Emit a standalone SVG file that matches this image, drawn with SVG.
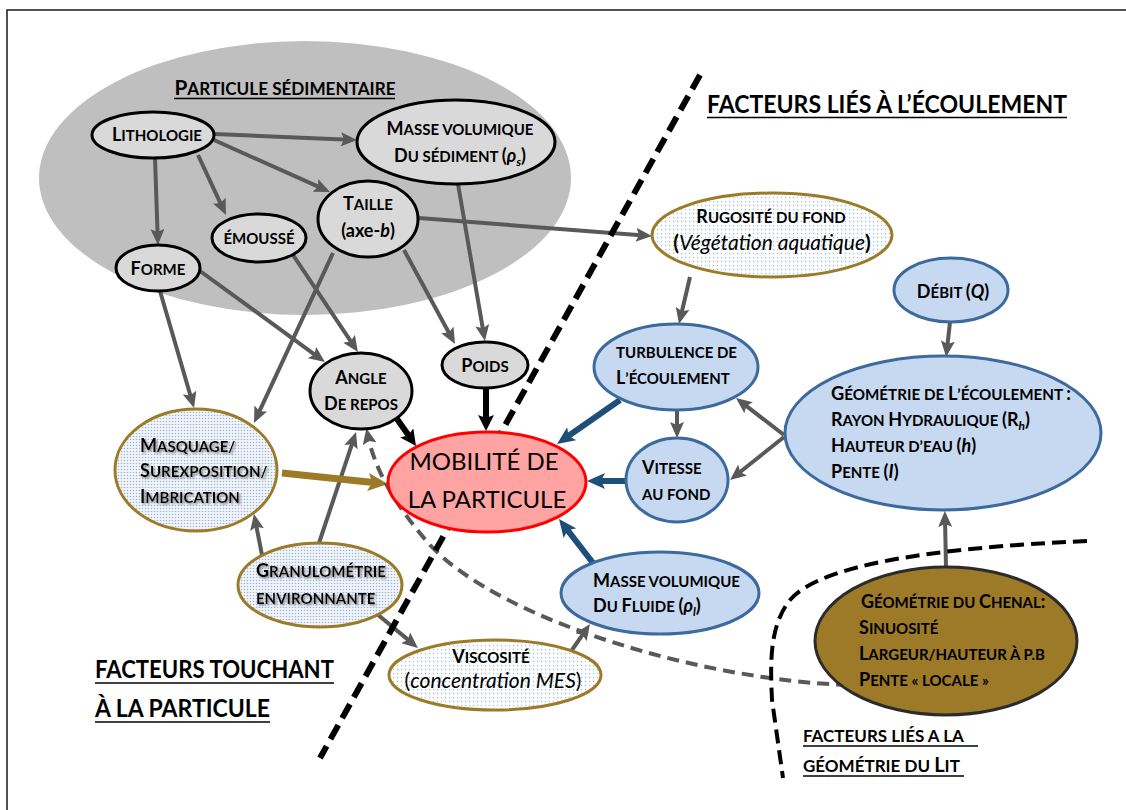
<svg xmlns="http://www.w3.org/2000/svg" width="1126" height="810" viewBox="0 0 1126 810">
<style>
.f{font-family:Lato,"Liberation Sans","DejaVu Sans",sans-serif;font-weight:bold;fill:#000}
.n{font-size:18px}
.s{font-size:15px}
.i{font-style:italic}
.r{font-weight:normal}
.m{text-anchor:middle}
.c{fill:none;stroke:#595959;stroke-width:4}
.cb{fill:none;stroke:#1f4e79;stroke-width:6}
.ck{fill:none;stroke:#000;stroke-width:6}
.cn{fill:none;stroke:#9c7a27;stroke-width:7}
.gn{fill:#d9d9d9;stroke:#000;stroke-width:3}
.bn{fill:#c6d9f1;stroke:#3d6a9c;stroke-width:3}
.dn{stroke:#9c7a27;stroke-width:3}
.ul{stroke:#000;stroke-width:1.6}
</style>
<defs>
<pattern id="dots" width="4" height="4" patternUnits="userSpaceOnUse"><rect width="4" height="4" fill="#fff"/><circle cx="1.5" cy="1.5" r="0.7" fill="#9dbbe0"/></pattern>
<pattern id="dots2" width="3" height="3" patternUnits="userSpaceOnUse"><rect width="3" height="3" fill="#f2f6fb"/><circle cx="1.5" cy="1.5" r="0.8" fill="#9fb6d6"/></pattern>
<filter id="sh" x="-10%" y="-30%" width="120%" height="160%"><feDropShadow dx="1.5" dy="1.5" stdDeviation="0.8" flood-color="#808080"/></filter>
<marker id="ag" markerUnits="userSpaceOnUse" markerWidth="16" markerHeight="14" refX="8" refY="7" orient="auto" viewBox="0 0 16 14"><path d="M0,0 L16,7 L0,14 L3,7 z" fill="#595959"/></marker>
<marker id="ab" markerUnits="userSpaceOnUse" markerWidth="18" markerHeight="16" refX="9" refY="8" orient="auto" viewBox="0 0 18 16"><path d="M0,0 L18,8 L0,16 L4,8 z" fill="#1f4e79"/></marker>
<marker id="ak" markerUnits="userSpaceOnUse" markerWidth="16" markerHeight="16" refX="7" refY="8" orient="auto" viewBox="0 0 16 16"><path d="M0,0 L16,8 L0,16 L3,8 z" fill="#000"/></marker>
<marker id="an" markerUnits="userSpaceOnUse" markerWidth="20" markerHeight="18" refX="10" refY="9" orient="auto" viewBox="0 0 20 18"><path d="M0,0 L20,9 L0,18 L4,9 z" fill="#9c7a27"/></marker>
</defs>
<rect width="1126" height="810" fill="#fff"/>
<rect x="7" y="10" width="1130" height="810" fill="none" stroke="#1a1a1a" stroke-width="1.5"/>

<g id="groupe-particule">
<ellipse cx="305" cy="178" rx="266" ry="137" fill="#bfbfbf"/>
<text class="f m" x="285" y="95" font-size="20" textLength="221" lengthAdjust="spacingAndGlyphs">P<tspan font-size="16.5">ARTICULE SÉDIMENTAIRE</tspan></text>
<line class="ul" x1="174" y1="98.5" x2="395" y2="98.5"/>
</g>

<g id="titres">
<text class="f" x="707" y="113" font-size="24" textLength="360" lengthAdjust="spacingAndGlyphs">FACTEURS LIÉS À L’ÉCOULEMENT</text>
<line class="ul" x1="707" y1="117.5" x2="1067" y2="117.5"/>
<text class="f" x="95" y="678" font-size="24" textLength="239" lengthAdjust="spacingAndGlyphs">FACTEURS TOUCHANT</text>
<line class="ul" x1="95" y1="683" x2="334" y2="683"/>
<text class="f" x="95" y="717" font-size="24" textLength="175" lengthAdjust="spacingAndGlyphs">À LA PARTICULE</text>
<line class="ul" x1="95" y1="722" x2="270" y2="722"/>
<text class="f" x="803" y="742" font-size="17">FACTEURS LIÉS A LA </text>
<line class="ul" x1="803" y1="746" x2="978" y2="746"/>
<text class="f" x="803" y="772" font-size="17">GÉOMÉTRIE DU <tspan font-size="20">L</tspan>IT</text>
<line class="ul" x1="803" y1="776" x2="964" y2="776"/>
</g>

<g id="connectors">
<line class="c" x1="215" y1="134" x2="349" y2="139.7" marker-end="url(#ag)"/>
<line class="c" x1="214" y1="140" x2="322.7" y2="188.7" marker-end="url(#ag)"/>
<line class="c" x1="198" y1="155" x2="222.6" y2="207.8" marker-end="url(#ag)"/>
<line class="c" x1="155" y1="158" x2="157.7" y2="237" marker-end="url(#ag)"/>
<line class="c" x1="419" y1="218" x2="644" y2="235.4" marker-end="url(#ag)"/>
<line class="c" x1="458" y1="184" x2="483.6" y2="333.1" marker-end="url(#ag)"/>
<line class="c" x1="404" y1="250" x2="451.2" y2="337" marker-end="url(#ag)"/>
<line class="c" x1="333" y1="253" x2="257.4" y2="415.7" marker-end="url(#ag)"/>
<line class="c" x1="293" y1="255" x2="353.5" y2="345.4" marker-end="url(#ag)"/>
<line class="c" x1="200" y1="271" x2="318.5" y2="357.3" marker-end="url(#ag)"/>
<line class="c" x1="160" y1="291" x2="191.8" y2="400.3" marker-end="url(#ag)"/>
<line class="c" x1="319" y1="543" x2="353.5" y2="439.6" marker-end="url(#ag)"/>
<line class="c" x1="262" y1="555" x2="255.5" y2="521.8" marker-end="url(#ag)"/>
<line class="c" x1="377" y1="614" x2="411.8" y2="642.9" marker-end="url(#ag)"/>
<line class="c" x1="572" y1="650" x2="585.4" y2="630.6" marker-end="url(#ag)"/>
<line class="c" x1="690" y1="277" x2="680.8" y2="316.2" marker-end="url(#ag)"/>
<line class="c" x1="677" y1="410" x2="677" y2="430" marker-end="url(#ag)"/>
<line class="c" x1="950" y1="322" x2="947" y2="349" marker-end="url(#ag)"/>
<line class="c" x1="784" y1="435" x2="742.3" y2="402.9" marker-end="url(#ag)"/>
<line class="c" x1="784" y1="437" x2="736.3" y2="475" marker-end="url(#ag)"/>
<line class="c" x1="946" y1="567" x2="945" y2="519" marker-end="url(#ag)"/>
<line class="cn" x1="282" y1="473" x2="378" y2="483" marker-end="url(#an)"/>
<line class="ck" x1="397" y1="419" x2="410.8" y2="438.6" marker-end="url(#ak)"/>
<line class="ck" x1="486" y1="388" x2="486" y2="422" marker-end="url(#ak)"/>
<line class="cb" x1="620" y1="400" x2="564.4" y2="438.8" marker-end="url(#ab)"/>
<line class="cb" x1="626" y1="481" x2="596" y2="481" marker-end="url(#ab)"/>
<line class="cb" x1="593" y1="563" x2="564.5" y2="526.1" marker-end="url(#ab)"/>
<path class="c" d="M848,685 C700,680 500,620 430,545 C395,505 375,470 368,436" stroke-dasharray="12 7" marker-end="url(#ag)"/>
</g>

<g id="separateurs">
<line x1="700" y1="75" x2="320" y2="758" stroke="#000" stroke-width="6" stroke-dasharray="16 8"/>
<path d="M1087,541 C930,548 820,565 790,600 C770,625 770,660 772,700 L783,778" fill="none" stroke="#000" stroke-width="4" stroke-dasharray="14 7"/>
</g>

<g id="lithologie"><ellipse class="gn" cx="153" cy="135" rx="61" ry="23"/>
<text class="f n m" x="157" y="141">L<tspan class="s">ITHOLOGIE</tspan></text></g>

<g id="masse-sediment"><ellipse class="gn" cx="456" cy="142" rx="99" ry="42"/>
<text class="f n m" x="460" y="135">M<tspan class="s">ASSE VOLUMIQUE</tspan></text>
<text class="f n m" x="460" y="162">D<tspan class="s">U SÉDIMENT </tspan>(<tspan class="i">ρ</tspan><tspan class="i" font-size="12" dy="4">s</tspan><tspan dy="-4">)</tspan></text></g>

<g id="taille"><ellipse class="gn" cx="368" cy="219" rx="50" ry="38"/>
<text class="f n m" x="368" y="210">T<tspan class="s">AILLE</tspan></text>
<text class="f n m" x="368" y="237">(axe-<tspan class="i">b</tspan>)</text></g>

<g id="emousse"><ellipse class="gn" cx="259" cy="238" rx="47" ry="24"/>
<text class="f m" x="259" y="244" font-size="15">ÉMOUSSÉ</text></g>

<g id="forme"><ellipse class="gn" cx="158" cy="268" rx="42" ry="23"/>
<text class="f n m" x="158" y="275">F<tspan class="s">ORME</tspan></text></g>

<g id="angle"><ellipse class="gn" cx="361" cy="391" rx="51" ry="38"/>
<text class="f n m" x="361" y="384">A<tspan class="s">NGLE</tspan></text>
<text class="f n m" x="361" y="410">D<tspan class="s">E REPOS</tspan></text></g>

<g id="poids"><ellipse class="gn" cx="485" cy="365" rx="43" ry="23"/>
<text class="f n m" x="485" y="372">P<tspan class="s">OIDS</tspan></text></g>

<g id="masquage"><ellipse class="dn" fill="url(#dots2)" cx="196" cy="470" rx="81" ry="61"/>
<g filter="url(#sh)">
<text class="f n" x="140" y="452">M<tspan class="s">ASQUAGE/</tspan></text>
<text class="f n" x="140" y="477">S<tspan class="s">UREXPOSITION/</tspan></text>
<text class="f n" x="140" y="503">I<tspan class="s">MBRICATION</tspan></text></g></g>

<g id="mobilite"><ellipse cx="487" cy="482" rx="99" ry="50" fill="#ffa3a3" stroke="#ff0000" stroke-width="3"/>
<text class="f r m" x="484" y="470" font-size="24">MOBILITÉ DE</text>
<text class="f r m" x="487" y="508" font-size="24">LA PARTICULE</text></g>

<g id="granulometrie"><ellipse class="dn" fill="url(#dots2)" cx="320" cy="585" rx="82" ry="42"/>
<g filter="url(#sh)">
<text class="f n" x="256" y="577">G<tspan class="s">RANULOMÉTRIE</tspan></text>
<text class="f n" x="256" y="604"><tspan class="s">ENVIRONNANTE</tspan></text></g></g>

<g id="viscosite"><ellipse class="dn" fill="url(#dots)" cx="495" cy="675" rx="106" ry="35"/>
<text class="f n m" x="491" y="663">V<tspan class="s">ISCOSITÉ</tspan></text>
<text class="f r m" x="493" y="688" font-size="21">(<tspan class="i">concentration MES</tspan>)</text></g>

<g id="rugosite"><ellipse class="dn" fill="url(#dots)" cx="772" cy="235" rx="120" ry="42"/>
<text class="f n m" x="771" y="223">R<tspan class="s">UGOSITÉ DU FOND</tspan></text>
<text class="f m" x="772" y="250" font-size="21">(<tspan class="i r">Végétation aquatique</tspan>)</text></g>

<g id="debit"><ellipse class="bn" cx="951" cy="290" rx="57" ry="32"/>
<text class="f n m" x="953" y="298">D<tspan class="s">ÉBIT </tspan>(<tspan class="i">Q</tspan>)</text></g>

<g id="turbulence"><ellipse class="bn" cx="676" cy="367" rx="82" ry="43"/>
<text class="f" x="616" y="358" font-size="15">TURBULENCE DE</text>
<text class="f n" x="616" y="384">L<tspan class="s">’ÉCOULEMENT</tspan></text></g>

<g id="vitesse"><ellipse class="bn" cx="677" cy="480" rx="51" ry="42"/>
<text class="f n" x="642" y="474">V<tspan class="s">ITESSE</tspan></text>
<text class="f" x="642" y="500" font-size="15">AU FOND</text></g>

<g id="geometrie-ecoulement"><ellipse class="bn" cx="943" cy="433" rx="158" ry="77"/>
<text class="f n" x="831" y="400" textLength="240" lengthAdjust="spacingAndGlyphs">G<tspan class="s">ÉOMÉTRIE DE </tspan>L<tspan class="s">’ÉCOULEMENT </tspan>:</text>
<text class="f n" x="831" y="426">R<tspan class="s">AYON </tspan>H<tspan class="s">YDRAULIQUE </tspan>(R<tspan class="i" font-size="12" dy="4">h</tspan><tspan dy="-4">)</tspan></text>
<text class="f n" x="831" y="452">H<tspan class="s">AUTEUR D’EAU </tspan>(<tspan class="i">h</tspan>)</text>
<text class="f n" x="831" y="478">P<tspan class="s">ENTE </tspan>(<tspan class="i">I</tspan>)</text></g>

<g id="masse-fluide"><ellipse class="bn" cx="660" cy="593" rx="99" ry="41"/>
<text class="f n" x="593" y="587">M<tspan class="s">ASSE VOLUMIQUE</tspan></text>
<text class="f n" x="593" y="612">D<tspan class="s">U </tspan>F<tspan class="s">LUIDE </tspan>(<tspan class="i">ρ</tspan><tspan class="i" font-size="12" dy="4">l</tspan><tspan dy="-4">)</tspan></text></g>

<g id="geometrie-chenal"><ellipse cx="946" cy="641" rx="131" ry="74" fill="#9c7a27" stroke="#2b2b2b" stroke-width="3"/>
<text class="f n" x="861" y="608">G<tspan class="s">ÉOMÉTRIE DU </tspan>C<tspan class="s">HENAL</tspan>:</text>
<text class="f n" x="859" y="634">S<tspan class="s">INUOSITÉ</tspan></text>
<text class="f n" x="859" y="660">L<tspan class="s">ARGEUR/HAUTEUR À P.B</tspan></text>
<text class="f n" x="859" y="686">P<tspan class="s">ENTE « LOCALE »</tspan></text></g>
</svg>
